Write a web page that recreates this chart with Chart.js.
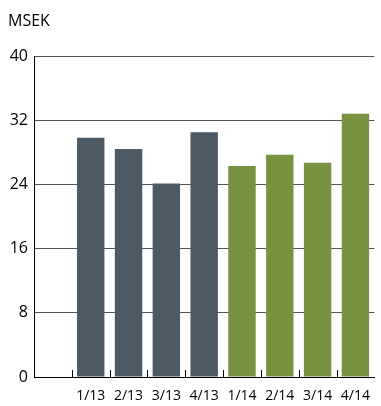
<!DOCTYPE html>
<html>
<head>
<meta charset="utf-8">
<script src="https://cdn.jsdelivr.net/npm/chart.js@4"></script>
<style>
  html, body { margin: 0; padding: 0; background: #fff; }
  #wrap { width: 381px; height: 406px; position: relative; }
</style>
</head>
<body>
<div id="wrap"><canvas id="quarterly"></canvas></div>
<script>
const quarters = ["", "1/13", "2/13", "3/13", "4/13", "1/14", "2/14", "3/14", "4/14"];
const values = [null, 29.8, 28.4, 24.1, 30.5, 26.3, 27.7, 26.7, 32.8];
const yTicks = [0, 8, 16, 24, 32, 40];
const unitLabel = "MSEK";

const color2013 = "#4b5a64";
const color2014 = "#78933f";
const fontFamily = "'Open Sans', 'Noto Sans', sans-serif";

const barColors = quarters.map((q) => (q.endsWith("/14") ? color2014 : color2013));

// short marks between categories, standing on the x axis
const categoryMarks = {
  id: "categoryMarks",
  afterDatasetsDraw(chart) {
    const { ctx, chartArea, scales } = chart;
    const xs = scales.x;
    ctx.save();
    ctx.strokeStyle = "#000";
    ctx.lineWidth = 1;
    ctx.beginPath();
    for (let i = 1; i < quarters.length; i++) {
      const x = Math.round((xs.getPixelForValue(i - 1) + xs.getPixelForValue(i)) / 2) + 0.5;
      ctx.moveTo(x, chartArea.bottom - 7);
      ctx.lineTo(x, chartArea.bottom);
    }
    ctx.stroke();
    ctx.restore();
  },
};

// unit text above the value axis
const unitTitle = {
  id: "unitTitle",
  afterDraw(chart) {
    const { ctx } = chart;
    ctx.save();
    ctx.fillStyle = "#000";
    ctx.font = "16px " + fontFamily;
    ctx.textBaseline = "middle";
    ctx.textAlign = "left";
    ctx.fillText(unitLabel, 8, 21);
    ctx.restore();
  },
};

new Chart(document.getElementById("quarterly"), {
  type: "bar",
  data: {
    labels: quarters,
    datasets: [
      {
        data: values,
        backgroundColor: barColors,
        borderWidth: 0,
        categoryPercentage: 1,
        barPercentage: 0.725,
      },
    ],
  },
  options: {
    responsive: true,
    maintainAspectRatio: false,
    animation: false,
    layout: { padding: { top: 56, right: 0, left: 0, bottom: 0 } },
    plugins: {
      legend: { display: false },
      tooltip: { enabled: false },
    },
    scales: {
      x: {
        afterFit(scale) {
          scale.height = 29;
        },
        grid: { display: false, drawTicks: false },
        border: { color: "#000", width: 1 },
        ticks: {
          color: "#000",
          padding: 11,
          maxRotation: 0,
          autoSkip: false,
          font: { family: fontFamily, size: 14 },
        },
      },
      y: {
        min: 0,
        max: 40,
        afterBuildTicks(scale) {
          scale.ticks = yTicks.map((v) => ({ value: v }));
        },
        afterFit(scale) {
          scale.width = 34;
        },
        grid: { color: "#555", lineWidth: 1, drawTicks: false },
        border: { color: "#000", width: 1 },
        ticks: {
          color: "#000",
          padding: 6,
          font: { family: fontFamily, size: 16 },
        },
      },
    },
  },
  plugins: [categoryMarks, unitTitle],
});
</script>
</body>
</html>
